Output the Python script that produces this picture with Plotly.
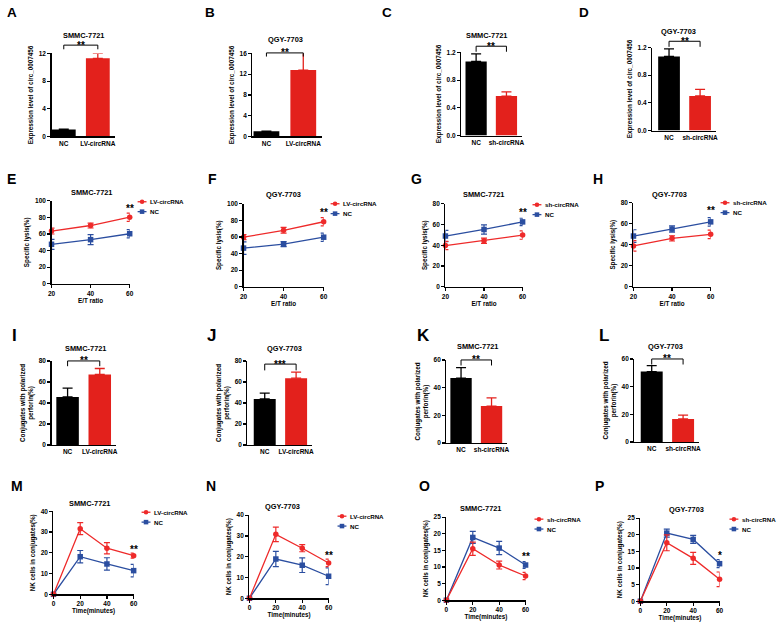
import plotly.graph_objects as go

W, H = 778, 624
RED = "#e3211c"
LRED = "#ee2a2a"
BLUE = "#2b4ea0"
BLACK = "#000000"
FONT = "Arial, Liberation Sans, sans-serif"

# ---------------- data ----------------
A_cats = ["NC", "LV-circRNA"]; A_vals = [1.0, 11.3]; A_err = [0.05, 0.7]
B_cats = ["NC", "LV-circRNA"]; B_vals = [1.0, 12.8]; B_err = [0.05, 3.7]
C_cats = ["NC", "sh-circRNA"]; C_vals = [1.07, 0.57]; C_err = [0.11, 0.06]
D_cats = ["NC", "sh-circRNA"]; D_vals = [1.07, 0.50]; D_err = [0.11, 0.095]
I_cats = ["NC", "LV-circRNA"]; I_vals = [45.7, 67.1]; I_err = [8.5, 5.7]
J_cats = ["NC", "LV-circRNA"]; J_vals = [43.8, 63.6]; J_err = [5.6, 5.7]
K_cats = ["NC", "sh-circRNA"]; K_vals = [46.9, 26.7]; K_err = [7.6, 5.9]
L_cats = ["NC", "sh-circRNA"]; L_vals = [50.9, 16.7]; L_err = [4.3, 2.7]
bar_sig = {"A": "**", "B": "**", "C": "**", "D": "**", "I": "**", "J": "***", "K": "**", "L": "**"}

ET_ratio = [20, 40, 60]
E_lv = [63.5, 70.2, 80.2]; E_lv_err = [3.5, 3.0, 5.0]
E_nc = [47.6, 53.2, 60.3]; E_nc_err = [6.0, 6.0, 5.0]
F_lv = [59.7, 68.0, 78.3]; F_lv_err = [3.0, 3.5, 5.0]
F_nc = [46.6, 51.4, 59.7]; F_nc_err = [7.5, 3.0, 5.0]
G_sh = [39.7, 44.4, 49.8]; G_sh_err = [4.0, 2.5, 4.0]
G_nc = [48.9, 55.2, 62.5]; G_nc_err = [5.5, 4.5, 3.5]
H_sh = [38.9, 46.1, 49.9]; H_sh_err = [5.0, 2.5, 4.0]
H_nc = [48.3, 54.9, 61.8]; H_nc_err = [6.0, 3.0, 4.0]

Time_min = [0, 20, 40, 60]
M_lv = [0, 31.6, 22.2, 18.6]; M_lv_err = [0, 2.9, 2.7, 1.2]
M_nc = [0, 18.1, 14.6, 11.4]; M_nc_err = [0, 3.0, 3.0, 3.0]
N_lv = [0, 30.8, 24.1, 17.0]; N_lv_err = [0, 3.5, 1.7, 1.8]
N_nc = [0, 18.9, 15.9, 10.6]; N_nc_err = [0, 3.7, 3.5, 4.0]
O_sh = [0, 15.5, 10.6, 7.3]; O_sh_err = [0, 2.0, 1.2, 1.1]
O_nc = [0, 18.9, 15.7, 10.6]; O_nc_err = [0, 1.8, 2.0, 1.0]
P_sh = [0, 17.6, 12.9, 6.6]; P_sh_err = [0, 2.4, 1.8, 2.2]
P_nc = [0, 20.5, 18.6, 11.3]; P_nc_err = [0, 1.2, 1.2, 1.2]
line_sig = {"E": "**", "F": "**", "G": "**", "H": "**", "M": "**", "N": "**", "O": "**", "P": "*"}

# ---------------- layout specs (pixels) ----------------
def fx(x): return x / W
def fy(y): return 1 - y / H

TICK_SIZE = 6.5
AXT_SIZE = 6.3
TITLE_SIZE = 7.4
LEG_SIZE = 6.2
STAR_SIZE = 10

bar_panels = [
    # key, cats, vals, err, title, xdom, ydom(top,bottom), xrange, ymax, dtick, fmt, ytitle, bracket(top,leg), letter(x,y,size), title pos
    ("A", A_cats, A_vals, A_err, "SMMC-7721", (48, 112), (50, 134), (-0.36, 1.5), 12, 4, "", "Expression level of circ_0007456", (13.2, 12.6), (8, 8.5, 13.5), (80, 32)),
    ("B", B_cats, B_vals, B_err, "QGY-7703", (251, 321), (50, 134), (-0.38, 1.5), 16, 4, "", "Expression level of circ_0007456", (16.1, 15.4), (208, 8.5, 13.5), (284, 36)),
    ("C", C_cats, C_vals, C_err, "SMMC-7721", (462, 523), (49, 133), (-0.49, 1.5), 1.2, 0.4, ".1f", "Expression level of circ_0007456", (1.29, 1.21), (387, 8.5, 13.5), (488, 32)),
    ("D", D_cats, D_vals, D_err, "QGY-7703", (655, 719), (44, 128), (-0.54, 1.5), 1.2, 0.4, ".1f", "Expression level of circ_0007456", (1.29, 1.21), (586, 8.5, 13.5), (682, 28)),
    ("I", I_cats, I_vals, I_err, "SMMC-7721", (48, 113), (361, 446), (-0.5, 1.5), 80, 20, "", "Conjugates with polarized<br>perforin(%)", (80, 75), (11, 335, 17), (82, 348)),
    ("J", J_cats, J_vals, J_err, "QGY-7703", (246, 311), (361, 446), (-0.55, 1.5), 80, 20, "", "Conjugates with polarized<br>perforin(%)", (77, 71), (210, 335, 17), (283, 348)),
    ("K", K_cats, K_vals, K_err, "SMMC-7721", (447, 508), (360, 444), (-0.48, 1.5), 60, 20, "", "Conjugates with polarized<br>perforin(%)", (60, 56), (424, 335, 17), (478, 346)),
    ("L", L_cats, L_vals, L_err, "QGY-7703", (637, 702), (359, 443), (-0.55, 1.5), 60, 20, "", "Conjugates with polarized<br>perforin(%)", (60, 56), (606, 335, 17), (668, 346)),
]

line_panels = [
    ("E", ET_ratio, ("LV-circRNA", E_lv, E_lv_err), (E_nc, E_nc_err), "SMMC-7721", (48, 127), (199, 283), (20, 60), 100, 20, "Specific lysis(%)", "E/T ratio", 91, (8, 177, 14), (88, 191), (135, 200)),
    ("F", ET_ratio, ("LV-circRNA", F_lv, F_lv_err), (F_nc, F_nc_err), "QGY-7703", (242, 323), (202, 286), (20, 60), 100, 20, "Specific lysis(%)", "E/T ratio", 89, (211, 177, 14), (282, 193), (330, 202)),
    ("G", ET_ratio, ("sh-circRNA", G_sh, G_sh_err), (G_nc, G_nc_err), "SMMC-7721", (446, 524), (202, 286), (20, 60), 80, 20, "Specific lysis(%)", "E/T ratio", 71.5, (417, 177, 14), (484, 193), (534, 203)),
    ("H", ET_ratio, ("sh-circRNA", H_sh, H_sh_err), (H_nc, H_nc_err), "QGY-7703", (636, 714), (201, 286), (20, 60), 80, 20, "Specific lysis(%)", "E/T ratio", 72.5, (600, 177, 14), (672, 193), (724, 201)),
    ("M", Time_min, ("LV-circRNA", M_lv, M_lv_err), (M_nc, M_nc_err), "SMMC-7721", (50, 131), (513, 597), (0, 60), 40, 10, "NK cells in conjugates(%)", "Time(minutes)", 21.4, (13, 487, 14), (86, 505), (139, 514)),
    ("N", Time_min, ("LV-circRNA", N_lv, N_lv_err), (N_nc, N_nc_err), "QGY-7703", (248, 328), (517, 601), (0, 60), 40, 10, "NK cells in conjugates(%)", "Time(minutes)", 20.5, (209, 487, 14), (281, 508), (337, 518)),
    ("O", Time_min, ("sh-circRNA", O_sh, O_sh_err), (O_nc, O_nc_err), "SMMC-7721", (447, 527), (519, 603), (0, 60), 25, 5, "NK cells in conjugates(%)", "Time(minutes)", 13.1, (425, 487, 14), (481, 510), (536, 521)),
    ("P", Time_min, ("sh-circRNA", P_sh, P_sh_err), (P_nc, P_nc_err), "QGY-7703", (643, 723), (520, 604), (0, 60), 25, 5, "NK cells in conjugates(%)", "Time(minutes)", 13.7, (602, 487, 14), (690, 511), (733, 521)),
]

fig = go.Figure()
layout = dict(width=W, height=H, margin=dict(l=0, r=0, t=0, b=0),
              paper_bgcolor="white", plot_bgcolor="white", showlegend=False,
              barmode="overlay", font=dict(family=FONT, size=7, color=BLACK, weight="bold"))
annotations = []
shapes = []

def axis_common():
    return dict(showgrid=False, zeroline=False, showline=True, linecolor=BLACK, linewidth=1.3,
                ticks="outside", ticklen=3, tickwidth=1.2, tickcolor=BLACK,
                tickfont=dict(family=FONT, size=TICK_SIZE, color=BLACK, weight="bold"), fixedrange=True)

def bold(size):
    return dict(family=FONT, size=size, color=BLACK, weight="bold")

def add_letter_title(letter, lpos, title, tpos):
    annotations.append(dict(text=letter, x=fx(lpos[0]), y=fy(lpos[1]), xref="paper", yref="paper",
                            showarrow=False, xanchor="center", yanchor="middle", font=bold(lpos[2])))
    annotations.append(dict(text=title, x=fx(tpos[0]), y=fy(tpos[1]), xref="paper", yref="paper",
                            showarrow=False, xanchor="center", yanchor="middle", font=bold(TITLE_SIZE)))

idx = 0
for (key, cats, vals, err, title, xd, yd, xr, ymax, dt, fmt, ytitle, br, lpos, tpos) in bar_panels:
    idx += 1
    xa = "x" if idx == 1 else f"x{idx}"
    ya = "y" if idx == 1 else f"y{idx}"
    colors = [BLACK, RED]
    for i in range(2):
        fig.add_trace(go.Bar(x=[cats[i]], y=[vals[i]], width=0.7, xaxis=xa, yaxis=ya,
                             marker=dict(color=colors[i], line=dict(width=0)),
                             error_y=dict(type="data", array=[err[i]], arrayminus=[0], symmetric=False,
                                          color=colors[i], thickness=1.3, width=5)))
    xax = axis_common()
    xax.update(domain=[fx(xd[0]), fx(xd[1])], anchor=ya, type="category", categoryarray=cats,
               categoryorder="array", range=list(xr), ticks="")
    yax = axis_common()
    yax.update(domain=[fy(yd[1]), fy(yd[0])], anchor=xa, range=[0, ymax], dtick=dt, tick0=0,
               tickformat=fmt, title=dict(text=ytitle, font=bold(AXT_SIZE), standoff=4))
    layout["xaxis" if idx == 1 else f"xaxis{idx}"] = xax
    layout["yaxis" if idx == 1 else f"yaxis{idx}"] = yax
    xf = lambda v: (v - xr[0]) / (xr[1] - xr[0])
    yf = lambda v: v / ymax
    for (x0, y0, x1, y1) in [(0, br[1], 0, br[0]), (0, br[0], 1, br[0]), (1, br[0], 1, br[1])]:
        shapes.append(dict(type="line", xref=f"{xa} domain", yref=f"{ya} domain",
                           x0=xf(x0), y0=yf(y0), x1=xf(x1), y1=yf(y1), line=dict(color=BLACK, width=1)))
    annotations.append(dict(text=bar_sig[key], x=xf(0.5), y=yf(br[0]), xref=f"{xa} domain", yref=f"{ya} domain",
                            showarrow=False, xanchor="center", yanchor="middle", yshift=0,
                            font=dict(family=FONT, size=STAR_SIZE, color=BLACK)))
    add_letter_title(key, lpos, title, tpos)

for (key, xs, s1, nc, title, xd, yd, xr, ymax, dt, ytitle, xtitle, stary, lpos, tpos, leg) in line_panels:
    idx += 1
    xa = f"x{idx}"
    ya = f"y{idx}"
    fig.add_trace(go.Scatter(x=xs, y=nc[0], mode="lines+markers", xaxis=xa, yaxis=ya, cliponaxis=False,
                             line=dict(color=BLUE, width=1.3), marker=dict(symbol="square", size=5.5, color=BLUE),
                             error_y=dict(type="data", array=nc[1], color=BLUE, thickness=1.2, width=3)))
    fig.add_trace(go.Scatter(x=xs, y=s1[1], mode="lines+markers", xaxis=xa, yaxis=ya, cliponaxis=False,
                             line=dict(color=LRED, width=1.3), marker=dict(symbol="circle", size=5.5, color=LRED),
                             error_y=dict(type="data", array=s1[2], color=LRED, thickness=1.2, width=3)))
    xax = axis_common()
    xax.update(domain=[fx(xd[0]), fx(xd[1])], anchor=ya, range=list(xr), tickvals=xs,
               title=dict(text=xtitle, font=bold(AXT_SIZE), standoff=2))
    yax = axis_common()
    yax.update(domain=[fy(yd[1]), fy(yd[0])], anchor=xa, range=[0, ymax], dtick=dt, tick0=0,
               title=dict(text=ytitle, font=bold(AXT_SIZE), standoff=4))
    layout[f"xaxis{idx}"] = xax
    layout[f"yaxis{idx}"] = yax
    annotations.append(dict(text=line_sig[key], x=xs[-1], y=stary, xref=xa, yref=ya, showarrow=False,
                            xanchor="center", yanchor="middle", font=dict(family=FONT, size=STAR_SIZE, color=BLACK)))
    add_letter_title(key, lpos, title, tpos)
    lx0, ly = leg
    for j, (lab, col, sym) in enumerate([(s1[0], LRED, "circle"), ("NC", BLUE, "rect")]):
        yy = ly + j * 10
        shapes.append(dict(type="line", xref="paper", yref="paper", x0=fx(lx0), x1=fx(lx0 + 9),
                           y0=fy(yy), y1=fy(yy), line=dict(color=col, width=1.3)))
        cx = lx0 + 4.5
        shapes.append(dict(type=sym, xref="paper", yref="paper", x0=fx(cx - 2.3), x1=fx(cx + 2.3),
                           y0=fy(yy + 2.3), y1=fy(yy - 2.3), fillcolor=col, line=dict(color=col, width=0)))
        annotations.append(dict(text=lab, x=fx(lx0 + 11), y=fy(yy), xref="paper", yref="paper",
                                showarrow=False, xanchor="left", yanchor="middle", font=bold(LEG_SIZE)))

layout["annotations"] = annotations
layout["shapes"] = shapes
fig.update_layout(**layout)
# let the figure fill the whole 778x624 window (no default 8px page margin, no scrollbars)
fig.write_html("out.html", config={"displayModeBar": False, "staticPlot": True},
               post_script="document.body.style.margin='0';document.body.style.overflow='hidden';")
